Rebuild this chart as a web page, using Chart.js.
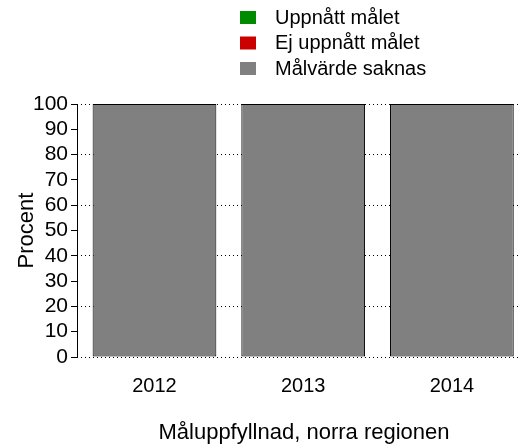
<!DOCTYPE html>
<html>
<head>
<meta charset="utf-8">
<script src="https://cdn.jsdelivr.net/npm/chart.js@4"></script>
<style>
  html, body { margin: 0; padding: 0; background: #fff; overflow: hidden; }
  #wrap { width: 531px; height: 447px; }
</style>
</head>
<body>
<div id="wrap"><canvas id="barchart"></canvas></div>
<script>
// data
var years = [2012, 2013, 2014];
var uppnatt = [0, 0, 0];
var ejUppnatt = [0, 0, 0];
var saknas = [100, 100, 100];
var yTicks = [0, 10, 20, 30, 40, 50, 60, 70, 80, 90, 100];

var font = "'Liberation Sans', Arial, sans-serif";

// legend drawn as a stacked list, top centre like the original
var stackLegend = {
  id: 'stackLegend',
  afterDraw: function(chart) {
    var ctx = chart.ctx;
    ctx.save();
    ctx.font = '20px ' + font;
    ctx.textBaseline = 'middle';
    ctx.textAlign = 'left';
    chart.data.datasets.forEach(function(ds, i) {
      var top = 11 + i * 25.5;
      ctx.fillStyle = ds.backgroundColor;
      ctx.fillRect(240, top, 16, 13);
      ctx.fillStyle = '#000';
      ctx.fillText(ds.label, 275, top + 7);
    });
    ctx.restore();
  }
};

// solid y axis line (the border option would get the dotted dash)
var yAxisLine = {
  id: 'yAxisLine',
  afterDraw: function(chart) {
    var a = chart.chartArea, ctx = chart.ctx;
    var x = Math.round(a.left) + 0.5;
    ctx.save();
    ctx.strokeStyle = '#000';
    ctx.lineWidth = 1;
    ctx.beginPath();
    ctx.moveTo(x, a.top);
    ctx.lineTo(x, a.bottom);
    ctx.stroke();
    ctx.restore();
  }
};

var bch = document.getElementById('barchart').getContext('2d');
var config = {
  type: 'bar',
  data: {
    labels: years,
    datasets: [{
      label: 'Uppnått målet',
      data: uppnatt,
      backgroundColor: '#008B00',
      borderColor: '#000',
      borderWidth: 0
    }, {
      label: 'Ej uppnått målet',
      data: ejUppnatt,
      backgroundColor: '#CD0000',
      borderColor: '#000',
      borderWidth: 0
    }, {
      label: 'Målvärde saknas',
      data: saknas,
      backgroundColor: '#808080',
      borderColor: '#000',
      borderWidth: 1,
      borderSkipped: false
    }]
  },
  options: {
    responsive: true,
    maintainAspectRatio: false,
    animation: false,
    layout: { padding: { top: 104, right: 0, bottom: 0, left: 0 } },
    datasets: { bar: { barPercentage: 0.832, categoryPercentage: 1 } },
    plugins: { legend: { display: false }, tooltip: { enabled: false } },
    scales: {
      x: {
        type: 'linear',
        stacked: true,
        offset: false,
        min: 2011.479,
        max: 2014.532,
        grid: { display: false, drawTicks: false },
        border: { display: false },
        afterBuildTicks: function(s) { s.ticks = years.map(function(y) { return { value: y }; }); },
        afterFit: function(s) { s.height = 90; },
        ticks: {
          color: '#000',
          padding: 17,
          autoSkip: false,
          font: { family: font, size: 20 },
          callback: function(v) { return String(v); }
        },
        title: {
          display: true,
          text: 'Måluppfyllnad, norra regionen',
          color: '#000',
          font: { family: font, size: 22 },
          padding: { top: 0, bottom: 1 }
        }
      },
      y: {
        stacked: true,
        min: 0,
        max: 100,
        afterBuildTicks: function(s) { s.ticks = yTicks.map(function(v) { return { value: v }; }); },
        afterFit: function(s) { s.width = 77; },
        grid: {
          color: function(c) { return c.tick && c.tick.value % 20 === 0 ? '#000' : 'rgba(0,0,0,0)'; },
          tickColor: '#000',
          tickBorderDash: [],
          tickLength: 6,
          lineWidth: 1
        },
        border: { display: false, dash: [1, 3] },
        ticks: {
          color: '#000',
          padding: 3,
          autoSkip: false,
          font: { family: font, size: 21 }
        },
        title: {
          display: true,
          text: 'Procent',
          color: '#000',
          font: { family: font, size: 22 },
          padding: { top: 14, bottom: 0 }
        }
      }
    }
  },
  plugins: [stackLegend, yAxisLine]
};
var bchart = new Chart(bch, config);
</script>
</body>
</html>
